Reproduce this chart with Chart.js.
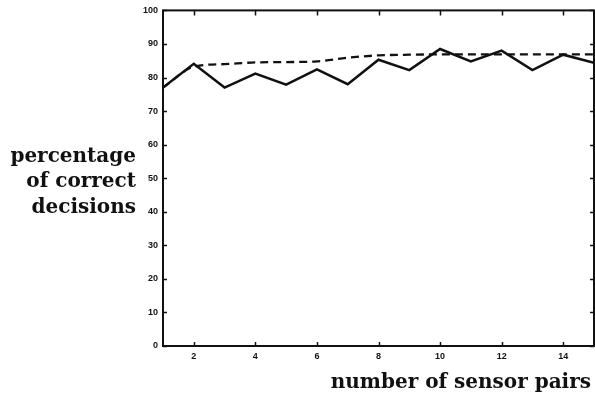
<!DOCTYPE html>
<html><head><meta charset="utf-8">
<script src="https://cdn.jsdelivr.net/npm/chart.js@4"></script>
<style>html,body{margin:0;padding:0;background:#fff}#wrap{width:595px;height:399px;position:relative}</style>
</head><body><div id="wrap"><canvas id="c"></canvas></div>
<script>
const sensorPairs = [1,2,3,4,5,6,7,8,9,10,11,12,13,14,15];
const solidSeries = [77,84.1,77,81.2,77.9,82.4,78,85.3,82.2,88.5,84.8,88,82.2,86.8,84.4];
const dashedSeries = [77,83.2,84,84.5,84.6,84.8,85.9,86.6,86.8,86.9,86.9,86.9,86.9,86.9,86.9];
const xTickValues = [2,4,6,8,10,12,14];
const yTickValues = [0,10,20,30,40,50,60,70,80,90,100];
const yTitleLines = ["percentage","of correct","decisions"];
const xTitle = "number of sensor pairs";

const toPts = (xs, ys) => xs.map((x,i)=>({x:x,y:ys[i]}));

const frame = {
  id:'frame',
  afterDatasetsDraw(chart){
    const {ctx, chartArea:a, scales:{x,y}} = chart;
    ctx.save();
    ctx.strokeStyle='#111'; ctx.lineWidth=2;
    ctx.strokeRect(a.left, a.top, a.right-a.left, a.bottom-a.top);
    ctx.lineWidth=1.5;
    yTickValues.forEach(v=>{
      const py = Math.round(y.getPixelForValue(v))+0.5;
      ctx.beginPath(); ctx.moveTo(a.left, py); ctx.lineTo(a.left+4, py);
      ctx.moveTo(a.right, py); ctx.lineTo(a.right-4, py); ctx.stroke();
    });
    xTickValues.forEach(v=>{
      const px = Math.round(x.getPixelForValue(v))+0.5;
      ctx.beginPath(); ctx.moveTo(px, a.bottom); ctx.lineTo(px, a.bottom-4);
      ctx.moveTo(px, a.top); ctx.lineTo(px, a.top+5); ctx.stroke();
    });
    ctx.fillStyle='#111';
    ctx.font='bold 20px "DejaVu Serif"';
    ctx.textAlign='right'; ctx.textBaseline='alphabetic';
    const yb = [162, 187, 213];
    yTitleLines.forEach((t,i)=>ctx.fillText(t, 136, yb[i]));
    ctx.font='bold 20px "DejaVu Serif"';
    ctx.fillText(xTitle, 591, 388);
    ctx.restore();
  }
};

new Chart(document.getElementById('c'), {
  type:'line',
  data:{datasets:[
    {data:toPts(sensorPairs, solidSeries), borderColor:'#111', borderWidth:2.5, pointRadius:0, tension:0, fill:false},
    {data:toPts(sensorPairs, dashedSeries), borderColor:'#111', borderWidth:2.3, borderDash:[8,5], pointRadius:0, tension:0.3, cubicInterpolationMode:'monotone', fill:false}
  ]},
  plugins:[frame],
  options:{
    responsive:true, maintainAspectRatio:false, animation:false,
    layout:{padding:{top:7,right:1,left:0,bottom:0}},
    plugins:{legend:{display:false}, tooltip:{enabled:false}},
    scales:{
      x:{type:'linear', min:1, max:15,
        afterBuildTicks(s){ s.ticks = xTickValues.map(v=>({value:v})); },
        afterFit(s){ s.height = 53; },
        grid:{display:false, drawTicks:false}, border:{display:false},
        ticks:{color:'#111', font:{family:'Liberation Sans', weight:'bold', size:9}, padding:5, maxRotation:0}
      },
      y:{type:'linear', min:0, max:100,
        afterBuildTicks(s){ s.ticks = yTickValues.map(v=>({value:v})); },
        afterFit(s){ s.width = 163; },
        grid:{display:false, drawTicks:false}, border:{display:false},
        ticks:{color:'#111', font:{family:'Liberation Sans', weight:'bold', size:9}, padding:5}
      }
    }
  }
});
</script></body></html>
